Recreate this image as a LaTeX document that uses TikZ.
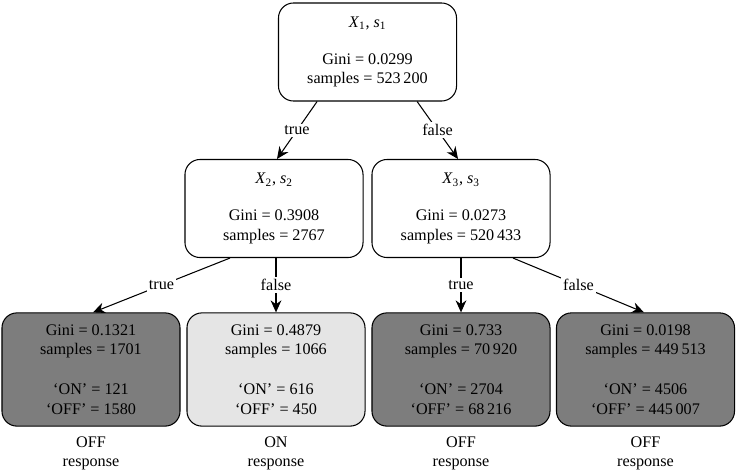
\documentclass[tikz,border=0pt]{standalone}
\usepackage{fontspec}
\setmainfont{Liberation Serif}
\usetikzlibrary{arrows.meta, positioning, calc}
\definecolor{leafdark}{RGB}{125,125,125}
\definecolor{leaflight}{RGB}{229,229,229}
\newcommand{\treefont}{\fontsize{11.5}{14.2}\selectfont}

\begin{document}
\begin{tikzpicture}[x=0.025cm, y=-0.025cm, line width=0.75pt]
        \tikzset{
            splitbox/.style={draw, rounded corners=0.375cm, fill=white, align=center, minimum width=4.45cm, minimum height=2.45cm, font=\treefont},
            leafbox/.style={splitbox, minimum height=2.83cm},
            offleaf/.style={leafbox, fill=leafdark},
            onleaf/.style={leafbox, fill=leaflight},
            edgelabel/.style={fill=white, inner sep=1.5pt, font=\treefont},
            response/.style={align=center, inner sep=1pt, font=\treefont},
            branch/.style={-{Stealth[length=3mm, width=2.7mm]}}
        }
        \useasboundingbox (0,0) rectangle (736,469);

        % Split nodes
        \node[splitbox] (n1) at (367.5,52) {\textit{X}\textsubscript{1}, \textit{s}\textsubscript{1}\\[12pt] Gini = 0.0299\\ samples = 523\,200};
        \node[splitbox] (n2) at (274,208.5) {\textit{X}\textsubscript{2}, \textit{s}\textsubscript{2}\\[12pt] Gini = 0.3908\\ samples = 2767};
        \node[splitbox] (n3) at (461,208.5) {\textit{X}\textsubscript{3}, \textit{s}\textsubscript{3}\\[12pt] Gini = 0.0273\\ samples = 520\,433};

        % Leaf nodes
        \node[offleaf] (leaf1) at (91,369.5) {Gini = 0.1321\\ samples = 1701\\[14pt] ‘ON’ = 121\\ ‘OFF’ = 1580};
        \node[onleaf] (leaf2) at (276,369.5) {Gini = 0.4879\\ samples = 1066\\[14pt] ‘ON’ = 616\\ ‘OFF’ = 450};
        \node[offleaf] (leaf3) at (461,369.5) {Gini = 0.733\\ samples = 70\,920\\[14pt] ‘ON’ = 2704\\ ‘OFF’ = 68\,216};
        \node[offleaf] (leaf4) at (645.5,369.5) {Gini = 0.0198\\ samples = 449\,513\\[14pt] ‘ON’ = 4506\\ ‘OFF’ = 445\,007};

        % Responses
        \node[response, below=5.5pt of leaf1] (resp1) {OFF\\ response};
        \node[response, below=5.5pt of leaf2] (resp2) {ON\\ response};
        \node[response, below=5.5pt of leaf3] (resp3) {OFF\\ response};
        \node[response, below=5.5pt of leaf4] (resp4) {OFF\\ response};

        % Branches
        \draw[branch] ([xshift=-1.26cm]n1.south) -- node[edgelabel] {true} ([xshift=0.075cm]n2.north);
        \draw[branch] ([xshift=1.24cm]n1.south) -- node[edgelabel] {false} ([xshift=-0.075cm]n3.north);
        \draw[branch] ([xshift=-1.1cm]n2.south) -- node[edgelabel] {true} ([xshift=0.05cm]leaf1.north);
        \draw[branch] (n2.south -| leaf2.north) -- node[edgelabel] {false} (leaf2.north);
        \draw[branch] (n3.south) -- node[edgelabel] {true} (leaf3.north);
        \draw[branch] ([xshift=1.3cm]n3.south) -- node[edgelabel] {false} ([xshift=-0.04cm]leaf4.north);
    \end{tikzpicture}
\end{document}
